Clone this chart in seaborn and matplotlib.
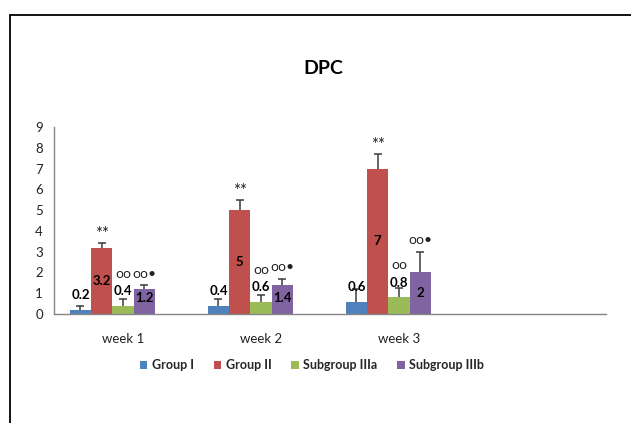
import matplotlib
matplotlib.use("Agg")
import matplotlib.pyplot as plt
import seaborn as sns
import pandas as pd
from matplotlib.lines import Line2D
from matplotlib.patches import Patch

weeks = ["week 1", "week 2", "week 3"]
groups = ["Group I", "Group II", "Subgroup IIIa", "Subgroup IIIb"]
group_i = [0.2, 0.4, 0.6]
group_ii = [3.2, 5, 7]
sub_iiia = [0.4, 0.6, 0.8]
sub_iiib = [1.2, 1.4, 2]
err_i = [0.2, 0.3, 0.6]
err_ii = [0.2, 0.5, 0.7]
err_iiia = [0.3, 0.3, 0.45]
err_iiib = [0.2, 0.3, 1.0]
marks_i = ["", "", ""]
marks_ii = ["**", "**", "**"]
marks_iiia = ["oo", "oo", "oo"]
marks_iiib = ["oo•", "oo•", "oo•"]
colors = ["#4F81BD", "#C0504D", "#9BBB59", "#8064A2"]

values = [group_i, group_ii, sub_iiia, sub_iiib]
errors = [err_i, err_ii, err_iiia, err_iiib]
marks = [marks_i, marks_ii, marks_iiia, marks_iiib]

rows = []
for g, vals in zip(groups, values):
    for w, v in zip(weeks, vals):
        rows.append({"week": w, "group": g, "value": v})
df = pd.DataFrame(rows)

sns.set_theme(style="white")
plt.rcParams["font.family"] = ["Lato", "DejaVu Sans"]

fig = plt.figure(figsize=(6.31, 4.23), dpi=100)
ax = fig.add_axes([54 / 631, 1 - 314 / 423, (606 - 54) / 631, (314 - 127) / 423])

empty_series = " "
palette = dict(zip(groups, colors))
palette[empty_series] = "white"
order = weeks + [""]
sns.barplot(data=df, x="week", y="value", hue="group", order=order,
            hue_order=groups + [empty_series], palette=palette, width=0.77,
            saturation=1, errorbar=None, legend=False, ax=ax,
            edgecolor="none", linewidth=0)

gray = "#868686"
for gi, cont in enumerate(ax.containers[:4]):
    bars = list(cont)
    xs = [b.get_x() + b.get_width() / 2 for b in bars]
    hs = [b.get_height() for b in bars]
    errs = errors[gi]
    eb = ax.errorbar(xs, hs, yerr=[[0] * len(hs), errs], fmt="none", ecolor="#3a3a3a",
                     elinewidth=1.1, capsize=3, capthick=1.1, zorder=3)
    caplines = eb[1]
    if len(caplines) == 2:
        caplines[0].set_visible(False)
    for x, h, e, m in zip(xs, hs, errs, marks[gi]):
        if gi in (0, 2):
            ly = h + 0.7
        else:
            ly = max(h / 2, 0.75)
        ax.text(x, ly, f"{h:g}", ha="center", va="center", fontsize=9.5,
                fontweight="bold", color="black", zorder=5)
        if m:
            if gi == 1:
                my = h + e + 0.05
                fs = 12
            elif gi == 2:
                my = h + 1.25
                fs = 10
            else:
                my = h + e + 0.25
                fs = 10
            ax.text(x, my, m, ha="center", va="bottom", fontsize=fs,
                    color="#222222", zorder=5)

ax.set_ylim(0, 9)
ax.set_yticks(range(0, 10))
ax.set_xlim(-0.5, 3.5)
ax.set_xlabel("")
ax.set_ylabel("")
ax.set_xticks(range(len(order)))
ax.set_xticklabels(order)
ax.set_xticks([i - 0.5 for i in range(len(order) + 1)], minor=True)
ax.tick_params(axis="x", which="major", length=0, pad=14, labelsize=9.5, colors="#222222")
ax.tick_params(axis="x", which="minor", length=5, width=1, color=gray, direction="out")
ax.tick_params(axis="y", which="major", length=5, width=1, color=gray, direction="out",
               pad=3, labelsize=9.5, labelcolor="#222222")
for s in ["top", "right"]:
    ax.spines[s].set_visible(False)
for s in ["left", "bottom"]:
    ax.spines[s].set_color(gray)
    ax.spines[s].set_linewidth(1)
ax.grid(False)

fig.text(323 / 631, 1 - 68 / 423, "DPC", ha="center", va="center",
         fontsize=14, fontweight="bold", color="black")

handles = [Patch(facecolor=c, edgecolor="none") for c in colors]
fig.legend(handles, groups, loc="center", bbox_to_anchor=(312 / 631, 1 - 365 / 423),
           ncol=4, frameon=False, handlelength=0.6, handleheight=0.6,
           handletextpad=0.35, columnspacing=1.6,
           prop={"family": ["Lato", "DejaVu Sans"], "weight": "bold", "size": 9})

# outer chart border (only left and top visible in the crop)
fig.add_artist(Line2D([10 / 631, 10 / 631], [0, 1 - 15 / 423], transform=fig.transFigure,
                      color="black", linewidth=1.3))
fig.add_artist(Line2D([10 / 631, 1], [1 - 15 / 423, 1 - 15 / 423], transform=fig.transFigure,
                      color="black", linewidth=1.3))

fig.savefig("out.png", dpi=100, facecolor="white")
